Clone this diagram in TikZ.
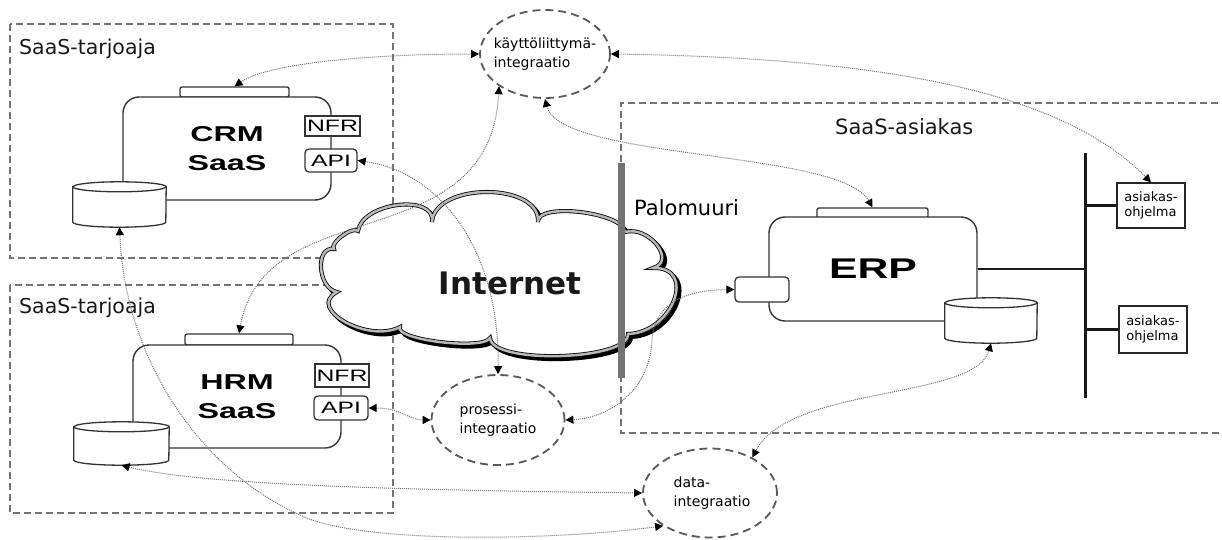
\documentclass[tikz,border=0pt]{standalone}
\usepackage{fontspec}
\setmainfont{DejaVu Sans}
\newfontfamily\appfont[FakeStretch=1.5]{Liberation Sans}
\usetikzlibrary{arrows.meta,shapes.geometric,calc}

% cylinder (database) drawn over an invisible placeholder node
\newcommand\dbdraw[2]{%
  \draw[dbline, fill=white] ($(#1.north west)+(0,5)$) -- ($(#1.south west)+(0,-5)$)
    arc[start angle=180, end angle=360, x radius=#2, y radius=5pt]
    -- ($(#1.north east)+(0,5)$)
    arc[start angle=0, end angle=180, x radius=#2, y radius=5pt] -- cycle;
  \draw[dbline] ($(#1.north west)+(0,5)$)
    arc[start angle=180, end angle=360, x radius=#2, y radius=5pt];
}

% outline of the Internet cloud
\def\cloudoutline{(334,249) .. controls (328.7,243.7) and (352.7,225.7) .. (358,231)
  .. controls (362,202.3) and (436,193.3) .. (432,222)
  .. controls (434.7,182) and (540.7,182) .. (538,222)
  .. controls (536,202) and (623,212) .. (625,232)
  .. controls (649,225.3) and (677,261.3) .. (653,268)
  .. controls (697.7,266.7) and (672.7,332.7) .. (628,334)
  .. controls (629.3,360.7) and (491.3,364.7) .. (490,338)
  .. controls (483.3,350.7) and (393.3,339.7) .. (400,327)
  .. controls (368.7,343.7) and (305.7,308.7) .. (337,292)
  .. controls (317.7,288.7) and (314.7,245.7) .. (334,249) -- cycle}

\begin{document}
\begin{tikzpicture}[x=1pt, y=-1pt,
  region/.style={draw=black!55, line width=1.1pt, dash pattern=on 7pt off 4pt},
  regionlabel/.style={anchor=base west, inner sep=0pt, text=black!90, font=\fontsize{20.5}{24}\selectfont},
  appbox/.style={draw=black!80, line width=1.4pt, rounded corners=16pt, fill=white, inner sep=0pt,
    align=center, font=\appfont\bfseries\fontsize{21.5}{29}\selectfont},
  tab/.style={draw=black!80, line width=1.3pt, rounded corners=2pt, fill=white, inner sep=0pt},
  port/.style={draw=black!80, line width=1.3pt, fill=white, inner sep=0pt,
    font=\appfont\fontsize{16.5}{17}\selectfont},
  dbnode/.style={inner sep=0pt, draw=none},
  dbline/.style={draw=black!80, line width=1.3pt},
  integ/.style={ellipse, draw=black!65, line width=1.8pt, dash pattern=on 8pt off 5pt,
    fill=white, inner sep=0pt},
  integtext/.style={align=left, font=\fontsize{14}{19}\selectfont},
  client/.style={draw=black!85, line width=1.2pt, fill=white, inner sep=0pt, align=left,
    font=\fontsize{13}{15}\selectfont},
  busline/.style={draw=black!90, line width=2.5pt},
  >={Triangle[length=8pt,width=8pt,color=black]},
  conn/.style={draw=black!55, line width=1pt, dash pattern=on 1pt off 1pt, <->},
]
\useasboundingbox (0,0) rectangle (1222,540);

% provider and customer regions
\draw[region] (10,24) rectangle (393,258);
\draw[region] (10,285) rectangle (393,513);
\draw[region] (1240,103) -| (621,433) -- (1240,433);
\node[regionlabel] (prov1) at (19,55) {SaaS-tarjoaja};
\node[regionlabel] (prov2) at (19,313) {SaaS-tarjoaja};
\node[regionlabel, font=\fontsize{21}{24}\selectfont] (cust) at (835,135) {SaaS-asiakas};

% CRM service
\node[tab, minimum width=109pt, minimum height=10pt] (crmtab) at (234.5,92) {};
\node[appbox, minimum width=208pt, minimum height=103pt] (crm) at (227,148.5) {CRM\\SaaS};
\node[port, minimum width=55pt, minimum height=20pt] (crmnfr) at (332.5,126) {NFR};
\node[port, rounded corners=4pt, minimum width=52pt, minimum height=23pt] (crmapi) at (331,160.5) {API};
\node[dbnode, minimum width=93pt, minimum height=45pt] (crmdb) at (119.5,204.5) {};
\dbdraw{crmdb}{46.5pt}

% HRM service
\node[tab, minimum width=108pt, minimum height=11pt] (hrmtab) at (239,339.5) {};
\node[appbox, minimum width=208pt, minimum height=103pt] (hrm) at (237,396.5) {HRM\\SaaS};
\node[port, minimum width=54pt, minimum height=23pt] (hrmnfr) at (342,375.5) {NFR};
\node[port, rounded corners=4pt, minimum width=54pt, minimum height=24pt] (hrmapi) at (341,408) {API};
\node[dbnode, minimum width=95pt, minimum height=43pt] (hrmdb) at (121.5,443.5) {};
\dbdraw{hrmdb}{47.5pt}

% Internet cloud
\draw[black, line width=4pt, shift={(3,3)}] \cloudoutline;
\draw[fill=white, draw=black, line width=0.8pt, double=black!28, double distance=2.5pt] \cloudoutline;
\node[font=\bfseries\fontsize{31}{31}\selectfont, text=black!90] (internet) at (510,283) {Internet};

% firewall
\coordinate (fwtop) at (621,163);
\coordinate (fwbot) at (621,378);
\draw[draw=black!55, line width=7pt] (fwtop) -- (fwbot);
\node[anchor=base west, inner sep=0pt, font=\fontsize{21}{24}\selectfont] (fwlabel) at (634,215) {Palomuuri};

% ERP system
\node[tab, minimum width=111pt, minimum height=10pt] (erptab) at (872.5,213) {};
\node[appbox, font=\appfont\bfseries\fontsize{28.5}{30}\selectfont, minimum width=208pt, minimum height=104pt] (erp) at (873,269) {ERP};
\node[port, rounded corners=4pt, minimum width=54pt, minimum height=25pt] (erpport) at (762,289.5) {};
\node[dbnode, minimum width=92pt, minimum height=45pt] (erpdb) at (991,320.5) {};
\dbdraw{erpdb}{46pt}

% customer network bus and client programs
\coordinate (bustop) at (1085,153);
\coordinate (busbot) at (1085,398);
\node[client, minimum width=68pt, minimum height=45pt] (a1) at (1151,205.5) {asiakas-\\ohjelma};
\node[client, minimum width=68pt, minimum height=47pt] (a2) at (1153,329.5) {asiakas-\\ohjelma};
\draw[draw=black!90, line width=3pt] (bustop) -- (busbot);
\draw[busline] (erp.east) -- (erp.east -| bustop);
\draw[busline] (a1.west) -- (a1.west -| bustop);
\draw[busline] (a2.west) -- (a2.west -| bustop);

% integration types
\node[integ, minimum width=130pt, minimum height=88pt,
  label={[integtext]center:käyttöliittymä-\\integraatio}] (kui) at (545,54) {};
\node[integ, minimum width=133pt, minimum height=90pt,
  label={[integtext]center:prosessi-\\integraatio}] (pro) at (498,420) {};
\node[integ, minimum width=134pt, minimum height=89pt,
  label={[integtext, xshift=2pt]center:data-\\integraatio}] (data) at (710,493) {};

% integration links
\coordinate (procurve) at (652,340);
\coordinate (datacurve) at (300,515);
\draw[conn] (crmtab.north) .. controls (270,62) and (380,54) .. (kui.west);
\draw[conn] (kui.east) .. controls (880,58) and (1060,90) .. (a1.north);
\draw[conn] (kui.south) .. controls (560,160) and (840,150) .. (erptab.north);
\draw[conn] (hrmtab.north) .. controls (265,190) and (490,260) .. (kui.215);
\draw[conn] (crmapi.east) .. controls (440,172) and (500,250) .. (pro.north);
\draw[conn] (hrmapi.east) .. controls (400,408) and (410,420) .. (pro.west);
\draw[conn] (erpport.west) .. controls (690,290) and (655,300) .. (procurve)
  .. controls (650,390) and (610,418) .. (pro.east);
\draw[conn] (hrmdb.south) .. controls (200,485) and (400,490) .. (data.west);
\draw[conn] (crmdb.south) .. controls (125,360) and (200,470) .. (datacurve)
  .. controls (360,545) and (560,540) .. (data.215);
\draw[conn] (erpdb.south) .. controls (975,400) and (790,385) .. (data.40);
\end{tikzpicture}
\end{document}
